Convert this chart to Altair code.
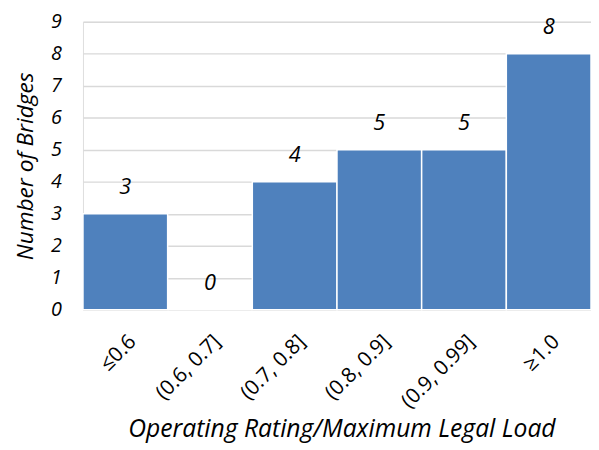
import altair as alt
import pandas as pd

categories = ["≤0.6", "(0.6, 0.7]", "(0.7, 0.8]", "(0.8, 0.9]", "(0.9, 0.99]", "≥1.0"]
counts = [3, 0, 4, 5, 5, 8]
y_ticks = [0, 1, 2, 3, 4, 5, 6, 7, 8, 9]

df = pd.DataFrame({"cat": categories, "n": counts})

FONT = "Open Sans"
BLUE = "#4F81BD"

x = alt.X(
    "cat:N",
    sort=categories,
    scale=alt.Scale(paddingInner=0, paddingOuter=0),
    axis=alt.Axis(
        title="Operating Rating/Maximum Legal Load",
        labelAngle=-45,
        labelFont=FONT,
        labelFontSize=21,
        labelColor="#000000",
        labelPadding=21,
        labelOverlap=False,
        ticks=False,
        domainColor="#D9D9D9",
        domainWidth=1.5,
        titleFont=FONT,
        titleFontSize=25,
        titleFontStyle="italic",
        titleFontWeight="normal",
        titleColor="#000000",
        titleX=262,
        titleY=128,
        titleAlign="center",
        titleBaseline="alphabetic",
    ),
)

y = alt.Y(
    "n:Q",
    scale=alt.Scale(domain=[0, 9], nice=False),
    axis=alt.Axis(
        title="Number of Bridges",
        values=y_ticks,
        tickCount=20,
        format="d",
        labelOverlap=False,
        labelFont=FONT,
        labelFontSize=20,
        labelFontStyle="italic",
        labelColor="#000000",
        labelPadding=22,
        ticks=False,
        domain=False,
        grid=True,
        gridColor="#D9D9D9",
        gridWidth=1.5,
        titleFont=FONT,
        titleFontSize=23,
        titleFontStyle="italic",
        titleFontWeight="normal",
        titleColor="#000000",
        titleX=-58,
        titleBaseline="middle",
    ),
)

base = alt.Chart(df)

bars = base.mark_bar(color=BLUE, stroke="white", strokeWidth=1.5).encode(x=x, y=y)

text = base.mark_text(
    font=FONT, fontSize=22, fontStyle="italic", color="#000000", dy=-27, baseline="middle"
).encode(x=x, y=y, text=alt.Text("n:Q"))

chart = (
    alt.layer(bars, text)
    .properties(
        width=515,
        height=292,
        autosize=alt.AutoSizeParams(type="none"),
        padding={"left": 76, "top": 11, "right": 0, "bottom": 135},
    )
    .configure_view(stroke=None)
    .configure(background="white")
)

chart.save("out.html", embed_options={"renderer": "svg", "actions": False})
